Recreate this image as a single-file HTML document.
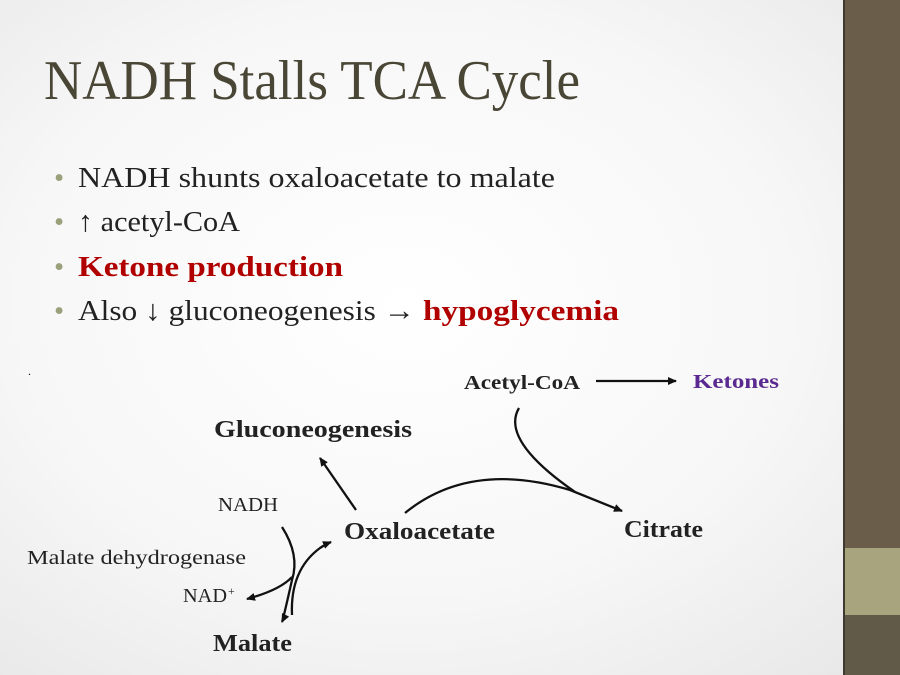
<!DOCTYPE html>
<html><head><style>
body{margin:0;width:900px;height:675px;overflow:hidden;background:radial-gradient(ellipse at 45% 45%,#ffffff 0%,#f7f7f7 55%,#e6e6e6 100%);font-family:"Liberation Serif",serif;position:relative}
.side{position:absolute;left:843px;top:0;width:57px;height:675px;background:#6a5e4a;border-left:2px solid #3e3a30}
.band{position:absolute;left:845px;top:548px;width:55px;height:67px;background:#a8a57e}
.low{position:absolute;left:845px;top:615px;width:55px;height:60px;background:#625a48}
</style></head><body>
<div class="side"></div><div class="band"></div><div class="low"></div>
<svg width="900" height="675" style="position:absolute;left:0;top:0" font-family="Liberation Serif, serif">
<defs><marker id="a" markerWidth="10" markerHeight="10" refX="8" refY="5" orient="auto" markerUnits="userSpaceOnUse"><path d="M0,1 L9,5 L0,9 z" fill="#111"/></marker></defs>
<text x="44" y="99" font-size="56" fill="#4a4636" textLength="536" lengthAdjust="spacingAndGlyphs">NADH Stalls TCA Cycle</text>
<g font-size="29" fill="#222">
<text x="54" y="187" fill="#9aa07a">•</text>
<text x="54" y="231" fill="#9aa07a">•</text>
<text x="54" y="276" fill="#9aa07a">•</text>
<text x="54" y="320" fill="#9aa07a">•</text>
<text x="78" y="187" textLength="477" lengthAdjust="spacingAndGlyphs">NADH shunts oxaloacetate to malate</text>
<text x="78" y="231" textLength="162" lengthAdjust="spacingAndGlyphs">↑ acetyl-CoA</text>
<text x="78" y="276" fill="#b00000" font-weight="bold" textLength="265" lengthAdjust="spacingAndGlyphs">Ketone production</text>
<text x="78" y="320" textLength="337" lengthAdjust="spacingAndGlyphs">Also ↓ gluconeogenesis →</text>
<text x="423" y="320" fill="#b00000" font-weight="bold" textLength="196" lengthAdjust="spacingAndGlyphs">hypoglycemia</text>
</g>
<text x="28" y="375" font-size="12">.</text>
<g font-weight="bold" fill="#222">
<text x="464" y="389" font-size="20" textLength="116" lengthAdjust="spacingAndGlyphs">Acetyl-CoA</text>
<text x="693" y="388" font-size="20" fill="#5a2a90" textLength="86" lengthAdjust="spacingAndGlyphs">Ketones</text>
<text x="214" y="437" font-size="24" textLength="198" lengthAdjust="spacingAndGlyphs">Gluconeogenesis</text>
<text x="344" y="539" font-size="24" textLength="151" lengthAdjust="spacingAndGlyphs">Oxaloacetate</text>
<text x="624" y="537" font-size="24" textLength="79" lengthAdjust="spacingAndGlyphs">Citrate</text>
<text x="213" y="651" font-size="24" textLength="79" lengthAdjust="spacingAndGlyphs">Malate</text>
</g>
<g fill="#222" font-size="20">
<text x="218" y="511" textLength="60" lengthAdjust="spacingAndGlyphs">NADH</text>
<text x="27" y="564" textLength="219" lengthAdjust="spacingAndGlyphs">Malate dehydrogenase</text>
<text x="183" y="602" textLength="44" lengthAdjust="spacingAndGlyphs">NAD</text>
<text x="228" y="595" font-size="12">+</text>
</g>
<g stroke="#111" stroke-width="2.3" fill="none">
<line x1="596" y1="381" x2="676" y2="381" marker-end="url(#a)"/>
<line x1="356" y1="510" x2="320" y2="458" marker-end="url(#a)"/>
<path d="M405 513 Q470 460 570 490 L622 511" marker-end="url(#a)"/>
<path d="M519 408 Q500 440 575 492"/>
<path d="M292 615 Q290 570 320 548 Q326 544 331 542" marker-end="url(#a)"/>
<path d="M282 527 Q300 555 292 580 Q283 620 282 622" marker-end="url(#a)"/>
<path d="M292 577 Q280 590 247 599" marker-end="url(#a)"/>
</g>
</svg>
</body></html>
